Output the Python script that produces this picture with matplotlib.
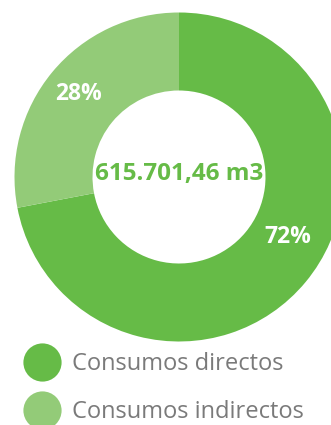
import matplotlib.pyplot as plt
from matplotlib.lines import Line2D
import numpy as np

# ── Data ───────────────────────────────────────────────────────
labels = ["Consumos directos", "Consumos indirectos"]
shares = [72, 28]
total_label = "615.701,46 m3"
colors = ["#66BB47", "#93CB78"]
text_grey = "#7A7A7A"

plt.rcParams["font.family"] = ["Open Sans", "DejaVu Sans"]

W, H = 331, 425
fig = plt.figure(figsize=(W / 100, H / 100), dpi=100)
ax = fig.add_axes([0, 0, 1, 1])

# ── Donut (pixel space, origin bottom-left) ────────────────────
cx, cy, r_out = 179, H - 177, 164.5
wedges, _, pct_texts = ax.pie(
    shares, colors=colors, startangle=90, counterclock=False,
    center=(cx, cy), radius=r_out,
    wedgeprops=dict(width=r_out - 86.5, linewidth=0),
    autopct=lambda p: f"{p:.0f}%", pctdistance=0.79,
    textprops=dict(color="white", fontsize=16.5, fontweight="bold"),
)
# nudge the big-slice label towards the right edge
ang = np.deg2rad(-29)
pct_texts[0].set_position((cx + 124 * np.cos(ang), cy + 124 * np.sin(ang)))

ax.text(cx, cy + 3, total_label, ha="center", va="center",
        fontsize=17.5, fontweight="bold", color=colors[0])

ax.set_xlim(0, W)
ax.set_ylim(0, H)
ax.set_aspect("equal")
ax.axis("off")

# ── Legend ─────────────────────────────────────────────────────
handles = [Line2D([], [], marker="o", ls="", ms=27.5, color=c, mec="none") for c in colors]
ax.legend(handles, labels, loc="upper left", bbox_to_anchor=(11.4 / W, 1 - 345 / H),
          frameon=False, fontsize=17, labelcolor=text_grey,
          handlelength=2.0, handletextpad=0.28, labelspacing=1.01,
          borderaxespad=0, borderpad=0.3)

fig.savefig("out.png", dpi=100)
